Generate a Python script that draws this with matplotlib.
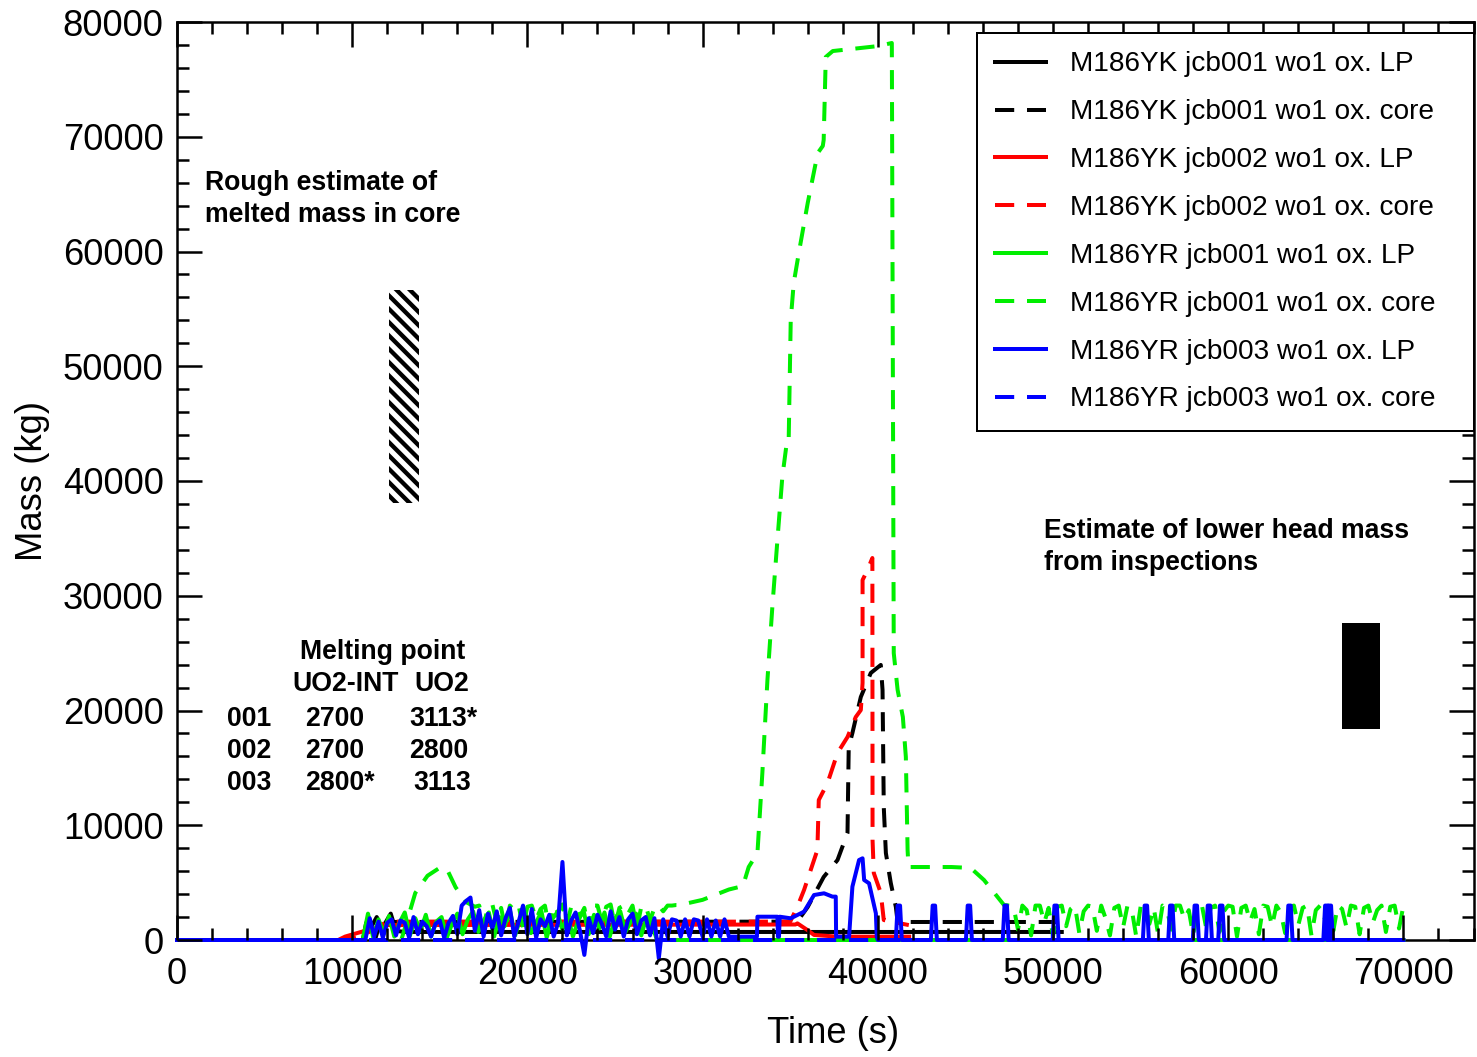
import numpy as np
import matplotlib
matplotlib.use('Agg')
import matplotlib.pyplot as plt
from matplotlib.ticker import MultipleLocator

plt.rcParams['font.family'] = ['Liberation Sans', 'DejaVu Sans']
plt.rcParams['hatch.linewidth'] = 2.6
plt.rcParams['hatch.color'] = 'black'

# ---------------- data ----------------
labels = ["M186YK jcb001 wo1 ox. LP", "M186YK jcb001 wo1 ox. core",
          "M186YK jcb002 wo1 ox. LP", "M186YK jcb002 wo1 ox. core",
          "M186YR jcb001 wo1 ox. LP", "M186YR jcb001 wo1 ox. core",
          "M186YR jcb003 wo1 ox. LP", "M186YR jcb003 wo1 ox. core"]
colors = ["black", "black", "red", "red", "#00ee00", "#00ee00", "blue", "blue"]

# YK jcb001 LP (black solid)
yk1_lp_t = [0, 10600, 10800, 11000, 11400, 11700, 12200, 12500, 13000, 50500]
yk1_lp_m = [0, 0, 1500, 900, 2000, 1000, 2300, 800, 700, 700]

# YK jcb001 core (black dashed)
yk1_core_t = [0, 11300, 11600, 35400, 36000, 36910, 37700, 38270, 38340, 38550, 39030,
              39600, 40170, 40270, 40340, 40460, 40740, 41030, 41130, 50500]
yk1_core_m = [0, 0, 1570, 1600, 2880, 5490, 6970, 9330, 16820, 18040, 21180,
              23270, 23970, 21790, 11590, 7580, 4970, 2880, 1570, 1570]

# YK jcb002 LP (red solid)
yk2_lp_t = [0, 9200, 9600, 10500, 12000, 35300, 35410, 35980, 36360, 37700, 41790]
yk2_lp_m = [0, 0, 300, 700, 1300, 1350, 1450, 870, 440, 290, 290]

# YK jcb002 core (red dashed)
yk2_core_t = [0, 9500, 10500, 12000, 35000, 35410, 35790, 36550, 36630, 37130, 37700,
              38270, 38740, 39030, 39130, 39130, 39410, 39690, 39700, 39770, 40170,
              40340, 41770]
yk2_core_m = [0, 0, 300, 1600, 1600, 2900, 4360, 7840, 12200, 13680, 16300,
              17690, 19430, 20040, 22400, 31370, 32240, 33290, 8720, 5840, 4100,
              1740, 1300]

# YR jcb001 LP (green solid): oscillating part, samples every 300 s from 10600 s
yr1_lp_start, yr1_lp_step = 10600, 300
yr1_lp_noise = [0, 2300, 200, 1800, 600, 2100, 300, 1500, 2400, 400, 1900, 800, 2200,
                300, 1600, 2000, 200, 1400, 2300, 500, 1800, 2500, 700, 1700, 2400,
                300, 2000, 1200, 2600, 400, 1900, 2300, 600, 1500, 2500, 200, 1800,
                2400, 900, 2100, 300, 1700, 2600, 500, 2200, 1000, 2400, 300, 1900,
                2500, 700, 1600, 2300, 400, 2000, 1300, 0]
yr1_lp_end_t = 70000

# YR jcb001 core (green dashed)
yr1_core_a_t = [0, 12800, 13100, 13600, 14300, 15000, 15400, 15900, 16500]
yr1_core_a_m = [0, 0, 1500, 4100, 5600, 6300, 6200, 4600, 3300]
yr1_core_n1_start, yr1_core_n1_step = 17000, 250
yr1_core_n1 = [2900, 3000, 1200, 2900, 3100, 1500, 2800, 900, 3000, 2600, 3000, 1100,
               2900, 3000, 1800, 2700, 3000, 1000, 3000, 2400, 3100, 1300, 2900, 3000,
               2000, 2800, 900, 3000, 3000, 1600, 2900, 3100, 1200, 2800, 3000, 2300,
               3000, 1000, 2900, 3000, 1700, 2800, 3000, 2500, 3000, 3000, 3050]
yr1_core_b_t = [28700, 30000, 31500, 32300, 32630, 33130, 33410, 33700, 33980, 34270,
                34550, 34800, 34910, 35030, 35200, 35490, 36000, 36570, 36860, 36910,
                37030, 37430, 40000, 40800, 40910, 41130, 41430, 41600, 41700, 41750,
                44200, 45300, 46060, 47200]
yr1_core_b_m = [3050, 3500, 4400, 4700, 6360, 7580, 14550, 22660, 29020, 34860,
                40350, 43300, 43310, 54030, 57250, 59870, 64230, 68580, 69200, 69720,
                76950, 77470, 77900, 78170, 25000, 21800, 19430, 15950, 7840, 6360,
                6360, 6280, 5230, 3050]
yr1_core_n2_start, yr1_core_n2_step = 47500, 250
yr1_core_n2 = [3000, 2900, 900, 3000, 2600, 400, 3000, 3000, 1500, 2800, 300, 2900,
               3000, 1200, 2700, 3000, 600, 2500, 3000, 2900, 800, 3000, 1900, 400,
               2800, 3000, 1100, 3000, 2600, 300, 2900, 3000, 1400, 2800, 500, 3000,
               2700, 900, 3000, 3000, 1800, 2600, 400, 2900, 3000, 1000, 2800, 3000,
               700, 2500, 3000, 2900, 300, 2800, 3000, 1600, 2700, 500, 3000, 2900,
               1200, 3000, 2400, 600, 2900, 3000, 1300, 2800, 3000, 400, 2600, 3000,
               1900, 2800, 800, 3000, 2700, 1100, 3000, 2900, 500, 2800, 3000, 1500,
               2600, 3000, 700, 2900, 3000, 1000]
yr1_core_end_t, yr1_core_end_m = 70000, 3000

# YR jcb003 LP (blue solid)
yr3_lp_noise_start, yr3_lp_noise_step = 10750, 250
yr3_lp_noise = [0, 1900, 300, 1600, 200, 1500, 1800, 400, 1700, 1500, 200, 2000, 500,
                1600, 1200, 300, 1400, 1700, 200, 1500, 2100, 500, 3000, 3400, 3700,
                800, 2600, 300, 2300, 1000, 2500, 400, 1900, 2800, 300, 1600, 3000,
                500, 2700, 200, 1800, 1200, 2200, 300, 1500, 6800, 400, 1700, 2400,
                800, -1300, 1900, 600, 2200, 1400, 300, 2500, 900, 2000, 300, 1800,
                2300, 500, 1700, 2000, 400, 1900, -1600, 1800, 300, 1800, 1700, 300,
                1800, 300, 1800, 1700, 300, 1800, 300, 1700, 300, 1800, 290]
yr3_lp_b_t = [31600, 33100, 33130, 34270, 34300, 34360, 34400, 35030, 35790, 36360,
              36930, 37410, 37600, 37620, 38360, 38550, 38930, 39130, 39220, 39500,
              39890, 39940, 40000]
yr3_lp_b_m = [290, 290, 2030, 2030, 290, 290, 2030, 1890, 2470, 3920,
              4070, 3780, 3780, 290, 290, 4650, 6970, 7120, 5230, 4940,
              2320, 260, 0]
yr3_lp_spikes = [41200, 43200, 45200, 47300, 50150, 55300, 56750, 58150, 58900,
                 59600, 63500, 65600, 65800]
yr3_lp_spike_h = 3000
yr3_lp_end_t = 70000

# YR jcb003 core (blue dashed) - stays at zero
yr3_core_t = [0, 70000]
yr3_core_m = [0, 0]

# Estimate boxes
melt_box = dict(t0=12074, t1=13789, m0=38056, m1=56645)
lh_box = dict(t0=66514, t1=68686, m0=18388, m1=27651)

# ---------------- figure ----------------
DPI = 120
fig = plt.figure(figsize=(1477 / DPI, 1057 / DPI), dpi=DPI)
ax = fig.add_axes([177 / 1477, 117 / 1057, (1473.5 - 177) / 1477, 918 / 1057])

LW = 2.4
DASH = (4.8, 3.2)
Z = 2.6


def noise_series(start, step, vals):
    t = [start + step * i for i in range(len(vals))]
    return t, list(vals)


# green LP
g_t, g_m = noise_series(yr1_lp_start, yr1_lp_step, yr1_lp_noise)
yr1_lp_t = [0] + g_t + [yr1_lp_end_t]
yr1_lp_m = [0] + g_m + [0]

# green core
n1_t, n1_m = noise_series(yr1_core_n1_start, yr1_core_n1_step, yr1_core_n1)
n2_t, n2_m = noise_series(yr1_core_n2_start, yr1_core_n2_step, yr1_core_n2)
yr1_core_t = yr1_core_a_t + n1_t + yr1_core_b_t + n2_t + [yr1_core_end_t]
yr1_core_m = yr1_core_a_m + n1_m + yr1_core_b_m + n2_m + [yr1_core_end_m]

# blue LP
b_t, b_m = noise_series(yr3_lp_noise_start, yr3_lp_noise_step, yr3_lp_noise)
sp_t, sp_m = [], []
for c in yr3_lp_spikes:
    sp_t += [c - 170, c - 70, c + 70, c + 170]
    sp_m += [0, yr3_lp_spike_h, yr3_lp_spike_h, 0]
yr3_lp_t = [0] + b_t + yr3_lp_b_t + sp_t + [yr3_lp_end_t]
yr3_lp_m = [0] + b_m + yr3_lp_b_m + sp_m + [0]

series = [
    (yk1_lp_t, yk1_lp_m, '-'),
    (yk1_core_t, yk1_core_m, '--'),
    (yk2_lp_t, yk2_lp_m, '-'),
    (yk2_core_t, yk2_core_m, '--'),
    (yr1_lp_t, yr1_lp_m, '-'),
    (yr1_core_t, yr1_core_m, '--'),
    (yr3_lp_t, yr3_lp_m, '-'),
    (yr3_core_t, yr3_core_m, '--'),
]
for (t, m, ls), lab, col in zip(series, labels, colors):
    kw = dict(color=col, lw=LW, label=lab, zorder=Z, clip_on=False)
    if ls == '--':
        ax.plot(t, m, linestyle='--', dashes=DASH, **kw)
    else:
        ax.plot(t, m, linestyle='-', **kw)

# estimate boxes
ax.bar((melt_box['t0'] + melt_box['t1']) / 2, melt_box['m1'] - melt_box['m0'],
       bottom=melt_box['m0'], width=melt_box['t1'] - melt_box['t0'],
       facecolor='white', edgecolor='black', hatch='\\\\\\', linewidth=0, zorder=2)
ax.bar((lh_box['t0'] + lh_box['t1']) / 2, lh_box['m1'] - lh_box['m0'],
       bottom=lh_box['m0'], width=lh_box['t1'] - lh_box['t0'],
       facecolor='black', edgecolor='black', linewidth=0, zorder=2)

# axes styling
ax.set_xlim(0, 74000)
ax.set_ylim(0, 80000)
ax.xaxis.set_major_locator(MultipleLocator(10000))
ax.xaxis.set_minor_locator(MultipleLocator(2000))
ax.yaxis.set_major_locator(MultipleLocator(10000))
ax.yaxis.set_minor_locator(MultipleLocator(2000))
ax.tick_params(which='both', direction='in', top=True, right=True, width=1.5,
               labelsize=21.8, colors='black')
ax.tick_params(which='major', length=15)
ax.tick_params(which='minor', length=7.2)
ax.tick_params(axis='x', pad=10)
ax.tick_params(axis='y', pad=8)
for s in ax.spines.values():
    s.set_linewidth(1.5)
ax.xaxis.set_zorder(2.8)
ax.yaxis.set_zorder(2.8)

ax.set_xlabel('Time (s)', fontsize=21.8)
ax.set_ylabel('Mass (kg)', fontsize=21.8)
ax.xaxis.set_label_coords((833 - 177) / 1296.5, (940 - 1016) / 918)
ax.yaxis.set_label_coords((50 - 177) / 1296.5, 0.5)

leg_x0 = (977 - 177) / 1296.5
leg_w = (1473.5 - 977) / 1296.5
leg_top = (940 - 33) / 918
leg = ax.legend(loc='upper left', bbox_to_anchor=(leg_x0, leg_top - 0.5, leg_w, 0.5),
                mode='expand', borderaxespad=0,
                fontsize=16.8, frameon=True, fancybox=False, edgecolor='black',
                framealpha=1, handlelength=1.8, handletextpad=0.85,
                labelspacing=0.78, borderpad=0.66)
leg.get_frame().set_linewidth(1.2)
leg.set_zorder(5)

# annotations
def px2data(px, py):
    return (px - 177) / 0.0175, (940 - py) / 0.011475

bold = dict(fontsize=16, fontweight='bold', color='black')
texts = [
    ("Rough estimate of", 205, 190, 'left'),
    ("melted mass in core", 205, 222, 'left'),
    ("Estimate of lower head mass", 1043, 538, 'left'),
    ("from inspections", 1043, 570, 'left'),
    ("Melting point", 382, 659, 'center'),
    ("UO2-INT", 292, 691, 'left'),
    ("UO2", 414, 691, 'left'),
    ("001", 227, 726, 'left'), ("2700", 305, 726, 'left'), ("3113*", 409, 726, 'left'),
    ("002", 227, 758, 'left'), ("2700", 305, 758, 'left'), ("2800", 409, 758, 'left'),
    ("003", 227, 790, 'left'), ("2800*", 305, 790, 'left'), ("3113", 413, 790, 'left'),
]
for s, px, py, ha in texts:
    x, y = px2data(px, py)
    ax.text(x, y, s, ha=ha, va='baseline', **bold)

fig.savefig('out.png', dpi=DPI)
